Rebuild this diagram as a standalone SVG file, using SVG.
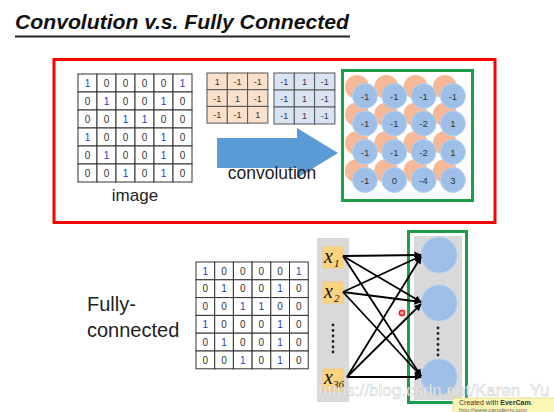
<svg xmlns="http://www.w3.org/2000/svg" width="554" height="412" viewBox="0 0 554 412">
<defs>
<style>
.t{font-family:"Liberation Sans",Arial,sans-serif;}
.cell{fill:#fff;stroke:#333;stroke-width:1;}
.d0{font-family:"Liberation Sans",Arial,sans-serif;font-size:10px;fill:#333;text-anchor:middle;}
.d1{font-family:"Liberation Sans",Arial,sans-serif;font-size:10px;fill:#2a35c8;text-anchor:middle;}
.fo{fill:#fbe0cc;stroke:#555;stroke-width:1;}
.fb{fill:#dae3f3;stroke:#555;stroke-width:1;}
.fd{font-family:"Liberation Sans",Arial,sans-serif;font-size:9px;fill:#333;text-anchor:middle;}
.oc{fill:#f7b897;}
.bc{fill:#9ec0e8;stroke:#b7d0ee;stroke-width:1;}
.cv{font-family:"Liberation Sans",Arial,sans-serif;font-size:9.5px;fill:#333;text-anchor:middle;}
.xb{fill:#fcd37f;stroke:#f2c86e;stroke-width:0.8;}
.xl{font-family:"Liberation Serif","Times New Roman",serif;font-style:italic;font-size:20px;fill:#111;}
.sub{font-family:"Liberation Serif","Times New Roman",serif;font-style:italic;font-size:11px;fill:#111;}
.ln{stroke:#000;stroke-width:1.8;fill:none;marker-end:url(#ah);}
.dot{fill:#222;}
</style>
<marker id="ah" viewBox="0 0 10 10" refX="9" refY="5" markerWidth="4" markerHeight="4" orient="auto" markerUnits="strokeWidth">
<path d="M0,0 L10,5 L0,10 z" fill="#000"/>
</marker>
<radialGradient id="glow"><stop offset="0" stop-color="#ff8080" stop-opacity="0.7"/><stop offset="1" stop-color="#ffc0c0" stop-opacity="0"/></radialGradient>
</defs>
<rect width="554" height="412" fill="#fff"/>

<g id="title">
<text class="t" x="15" y="29" font-size="21" font-weight="bold" font-style="italic" fill="#111" textLength="334" lengthAdjust="spacingAndGlyphs">Convolution v.s. Fully Connected</text>
<rect x="15" y="35.5" width="335" height="2" fill="#222"/>
</g>

<g id="conv-frame">
<rect x="54" y="59.5" width="441" height="163" fill="none" stroke="#f00" stroke-width="3"/>
</g>

<g id="image-matrix">
<g>
<rect class="cell" x="78" y="74" width="19" height="18"/><rect class="cell" x="97" y="74" width="19" height="18"/><rect class="cell" x="116" y="74" width="19" height="18"/><rect class="cell" x="135" y="74" width="19" height="18"/><rect class="cell" x="154" y="74" width="19" height="18"/><rect class="cell" x="173" y="74" width="19" height="18"/>
<rect class="cell" x="78" y="92" width="19" height="18"/><rect class="cell" x="97" y="92" width="19" height="18"/><rect class="cell" x="116" y="92" width="19" height="18"/><rect class="cell" x="135" y="92" width="19" height="18"/><rect class="cell" x="154" y="92" width="19" height="18"/><rect class="cell" x="173" y="92" width="19" height="18"/>
<rect class="cell" x="78" y="110" width="19" height="18"/><rect class="cell" x="97" y="110" width="19" height="18"/><rect class="cell" x="116" y="110" width="19" height="18"/><rect class="cell" x="135" y="110" width="19" height="18"/><rect class="cell" x="154" y="110" width="19" height="18"/><rect class="cell" x="173" y="110" width="19" height="18"/>
<rect class="cell" x="78" y="128" width="19" height="18"/><rect class="cell" x="97" y="128" width="19" height="18"/><rect class="cell" x="116" y="128" width="19" height="18"/><rect class="cell" x="135" y="128" width="19" height="18"/><rect class="cell" x="154" y="128" width="19" height="18"/><rect class="cell" x="173" y="128" width="19" height="18"/>
<rect class="cell" x="78" y="146" width="19" height="18"/><rect class="cell" x="97" y="146" width="19" height="18"/><rect class="cell" x="116" y="146" width="19" height="18"/><rect class="cell" x="135" y="146" width="19" height="18"/><rect class="cell" x="154" y="146" width="19" height="18"/><rect class="cell" x="173" y="146" width="19" height="18"/>
<rect class="cell" x="78" y="164" width="19" height="18"/><rect class="cell" x="97" y="164" width="19" height="18"/><rect class="cell" x="116" y="164" width="19" height="18"/><rect class="cell" x="135" y="164" width="19" height="18"/><rect class="cell" x="154" y="164" width="19" height="18"/><rect class="cell" x="173" y="164" width="19" height="18"/>
</g>
<text class="d1" x="87.5" y="87">1</text><text class="d0" x="106.5" y="87">0</text><text class="d0" x="125.5" y="87">0</text><text class="d0" x="144.5" y="87">0</text><text class="d0" x="163.5" y="87">0</text><text class="d1" x="182.5" y="87">1</text>
<text class="d0" x="87.5" y="105">0</text><text class="d1" x="106.5" y="105">1</text><text class="d0" x="125.5" y="105">0</text><text class="d0" x="144.5" y="105">0</text><text class="d1" x="163.5" y="105">1</text><text class="d0" x="182.5" y="105">0</text>
<text class="d0" x="87.5" y="123">0</text><text class="d0" x="106.5" y="123">0</text><text class="d1" x="125.5" y="123">1</text><text class="d1" x="144.5" y="123">1</text><text class="d0" x="163.5" y="123">0</text><text class="d0" x="182.5" y="123">0</text>
<text class="d1" x="87.5" y="141">1</text><text class="d0" x="106.5" y="141">0</text><text class="d0" x="125.5" y="141">0</text><text class="d0" x="144.5" y="141">0</text><text class="d1" x="163.5" y="141">1</text><text class="d0" x="182.5" y="141">0</text>
<text class="d0" x="87.5" y="159">0</text><text class="d1" x="106.5" y="159">1</text><text class="d0" x="125.5" y="159">0</text><text class="d0" x="144.5" y="159">0</text><text class="d1" x="163.5" y="159">1</text><text class="d0" x="182.5" y="159">0</text>
<text class="d0" x="87.5" y="177">0</text><text class="d0" x="106.5" y="177">0</text><text class="d1" x="125.5" y="177">1</text><text class="d0" x="144.5" y="177">0</text><text class="d1" x="163.5" y="177">1</text><text class="d0" x="182.5" y="177">0</text>
<text class="t" x="135" y="201" font-size="17" fill="#222" text-anchor="middle">image</text>
</g>

<g id="filter1">
<rect class="fo" x="207" y="73" width="20.3" height="16.7"/><rect class="fo" x="227.3" y="73" width="20.3" height="16.7"/><rect class="fo" x="247.6" y="73" width="20.3" height="16.7"/>
<rect class="fo" x="207" y="89.7" width="20.3" height="16.7"/><rect class="fo" x="227.3" y="89.7" width="20.3" height="16.7"/><rect class="fo" x="247.6" y="89.7" width="20.3" height="16.7"/>
<rect class="fo" x="207" y="106.4" width="20.3" height="16.7"/><rect class="fo" x="227.3" y="106.4" width="20.3" height="16.7"/><rect class="fo" x="247.6" y="106.4" width="20.3" height="16.7"/>
<text class="fd" x="217.2" y="85">1</text><text class="fd" x="237.5" y="85">-1</text><text class="fd" x="257.8" y="85">-1</text>
<text class="fd" x="217.2" y="101.7">-1</text><text class="fd" x="237.5" y="101.7">1</text><text class="fd" x="257.8" y="101.7">-1</text>
<text class="fd" x="217.2" y="118.4">-1</text><text class="fd" x="237.5" y="118.4">-1</text><text class="fd" x="257.8" y="118.4">1</text>
</g>

<g id="filter2">
<rect class="fb" x="274" y="73" width="20.3" height="17"/><rect class="fb" x="294.3" y="73" width="20.3" height="17"/><rect class="fb" x="314.6" y="73" width="20.3" height="17"/>
<rect class="fb" x="274" y="90" width="20.3" height="17"/><rect class="fb" x="294.3" y="90" width="20.3" height="17"/><rect class="fb" x="314.6" y="90" width="20.3" height="17"/>
<rect class="fb" x="274" y="107" width="20.3" height="17"/><rect class="fb" x="294.3" y="107" width="20.3" height="17"/><rect class="fb" x="314.6" y="107" width="20.3" height="17"/>
<text class="fd" x="284.2" y="85">-1</text><text class="fd" x="304.5" y="85">1</text><text class="fd" x="324.8" y="85">-1</text>
<text class="fd" x="284.2" y="102">-1</text><text class="fd" x="304.5" y="102">1</text><text class="fd" x="324.8" y="102">-1</text>
<text class="fd" x="284.2" y="119">-1</text><text class="fd" x="304.5" y="119">1</text><text class="fd" x="324.8" y="119">-1</text>
</g>

<g id="conv-arrow">
<polygon points="217,138 297,138 297,128 338,153 297,178 297,168 217,168" fill="#5b9bd5"/>
<text class="t" x="272" y="179" font-size="17.5" fill="#222" text-anchor="middle">convolution</text>
</g>

<g id="feature-map">
<rect x="342.5" y="70.5" width="130" height="130" fill="#fff" stroke="#1e9e48" stroke-width="3"/>
<g>
<circle class="oc" cx="357" cy="87" r="12"/><circle class="oc" cx="386.3" cy="87" r="12"/><circle class="oc" cx="415.6" cy="87" r="12"/><circle class="oc" cx="444.9" cy="87" r="12"/>
<circle class="oc" cx="357" cy="114.5" r="12"/><circle class="oc" cx="386.3" cy="114.5" r="12"/><circle class="oc" cx="415.6" cy="114.5" r="12"/><circle class="oc" cx="444.9" cy="114.5" r="12"/>
<circle class="oc" cx="357" cy="143" r="12"/><circle class="oc" cx="386.3" cy="143" r="12"/><circle class="oc" cx="415.6" cy="143" r="12"/><circle class="oc" cx="444.9" cy="143" r="12"/>
<circle class="oc" cx="357" cy="171" r="12"/><circle class="oc" cx="386.3" cy="171" r="12"/><circle class="oc" cx="415.6" cy="171" r="12"/><circle class="oc" cx="444.9" cy="171" r="12"/>
</g>
<g>
<circle class="bc" cx="365" cy="96" r="12.5"/><circle class="bc" cx="394.3" cy="96" r="12.5"/><circle class="bc" cx="423.6" cy="96" r="12.5"/><circle class="bc" cx="452.9" cy="96" r="12.5"/>
<circle class="bc" cx="365" cy="123.5" r="12.5"/><circle class="bc" cx="394.3" cy="123.5" r="12.5"/><circle class="bc" cx="423.6" cy="123.5" r="12.5"/><circle class="bc" cx="452.9" cy="123.5" r="12.5"/>
<circle class="bc" cx="365" cy="152" r="12.5"/><circle class="bc" cx="394.3" cy="152" r="12.5"/><circle class="bc" cx="423.6" cy="152" r="12.5"/><circle class="bc" cx="452.9" cy="152" r="12.5"/>
<circle class="bc" cx="365" cy="180" r="12.5"/><circle class="bc" cx="394.3" cy="180" r="12.5"/><circle class="bc" cx="423.6" cy="180" r="12.5"/><circle class="bc" cx="452.9" cy="180" r="12.5"/>
</g>
<text class="cv" x="365" y="99.5">-1</text><text class="cv" x="394.3" y="99.5">-1</text><text class="cv" x="423.6" y="99.5">-1</text><text class="cv" x="452.9" y="99.5">-1</text>
<text class="cv" x="365" y="127">-1</text><text class="cv" x="394.3" y="127">-1</text><text class="cv" x="423.6" y="127">-2</text><text class="cv" x="452.9" y="127">1</text>
<text class="cv" x="365" y="155.5">-1</text><text class="cv" x="394.3" y="155.5">-1</text><text class="cv" x="423.6" y="155.5">-2</text><text class="cv" x="452.9" y="155.5">1</text>
<text class="cv" x="365" y="183.5">-1</text><text class="cv" x="394.3" y="183.5">0</text><text class="cv" x="423.6" y="183.5">-4</text><text class="cv" x="452.9" y="183.5">3</text>
</g>

<g id="fc-label">
<text class="t" font-size="20" fill="#222"><tspan x="87" y="311">Fully-</tspan><tspan x="87" y="337">connected</tspan></text>
</g>

<g id="fc-matrix">
<g>
<rect class="cell" x="196" y="262" width="18.7" height="17.8"/><rect class="cell" x="214.7" y="262" width="18.7" height="17.8"/><rect class="cell" x="233.4" y="262" width="18.7" height="17.8"/><rect class="cell" x="252.1" y="262" width="18.7" height="17.8"/><rect class="cell" x="270.8" y="262" width="18.7" height="17.8"/><rect class="cell" x="289.5" y="262" width="18.7" height="17.8"/>
<rect class="cell" x="196" y="279.8" width="18.7" height="17.8"/><rect class="cell" x="214.7" y="279.8" width="18.7" height="17.8"/><rect class="cell" x="233.4" y="279.8" width="18.7" height="17.8"/><rect class="cell" x="252.1" y="279.8" width="18.7" height="17.8"/><rect class="cell" x="270.8" y="279.8" width="18.7" height="17.8"/><rect class="cell" x="289.5" y="279.8" width="18.7" height="17.8"/>
<rect class="cell" x="196" y="297.6" width="18.7" height="17.8"/><rect class="cell" x="214.7" y="297.6" width="18.7" height="17.8"/><rect class="cell" x="233.4" y="297.6" width="18.7" height="17.8"/><rect class="cell" x="252.1" y="297.6" width="18.7" height="17.8"/><rect class="cell" x="270.8" y="297.6" width="18.7" height="17.8"/><rect class="cell" x="289.5" y="297.6" width="18.7" height="17.8"/>
<rect class="cell" x="196" y="315.4" width="18.7" height="17.8"/><rect class="cell" x="214.7" y="315.4" width="18.7" height="17.8"/><rect class="cell" x="233.4" y="315.4" width="18.7" height="17.8"/><rect class="cell" x="252.1" y="315.4" width="18.7" height="17.8"/><rect class="cell" x="270.8" y="315.4" width="18.7" height="17.8"/><rect class="cell" x="289.5" y="315.4" width="18.7" height="17.8"/>
<rect class="cell" x="196" y="333.2" width="18.7" height="17.8"/><rect class="cell" x="214.7" y="333.2" width="18.7" height="17.8"/><rect class="cell" x="233.4" y="333.2" width="18.7" height="17.8"/><rect class="cell" x="252.1" y="333.2" width="18.7" height="17.8"/><rect class="cell" x="270.8" y="333.2" width="18.7" height="17.8"/><rect class="cell" x="289.5" y="333.2" width="18.7" height="17.8"/>
<rect class="cell" x="196" y="351" width="18.7" height="17.8"/><rect class="cell" x="214.7" y="351" width="18.7" height="17.8"/><rect class="cell" x="233.4" y="351" width="18.7" height="17.8"/><rect class="cell" x="252.1" y="351" width="18.7" height="17.8"/><rect class="cell" x="270.8" y="351" width="18.7" height="17.8"/><rect class="cell" x="289.5" y="351" width="18.7" height="17.8"/>
</g>
<text class="d1" x="205.3" y="274.5">1</text><text class="d0" x="224" y="274.5">0</text><text class="d0" x="242.7" y="274.5">0</text><text class="d0" x="261.4" y="274.5">0</text><text class="d0" x="280.1" y="274.5">0</text><text class="d1" x="298.8" y="274.5">1</text>
<text class="d0" x="205.3" y="292.3">0</text><text class="d1" x="224" y="292.3">1</text><text class="d0" x="242.7" y="292.3">0</text><text class="d0" x="261.4" y="292.3">0</text><text class="d1" x="280.1" y="292.3">1</text><text class="d0" x="298.8" y="292.3">0</text>
<text class="d0" x="205.3" y="310.1">0</text><text class="d0" x="224" y="310.1">0</text><text class="d1" x="242.7" y="310.1">1</text><text class="d1" x="261.4" y="310.1">1</text><text class="d0" x="280.1" y="310.1">0</text><text class="d0" x="298.8" y="310.1">0</text>
<text class="d1" x="205.3" y="327.9">1</text><text class="d0" x="224" y="327.9">0</text><text class="d0" x="242.7" y="327.9">0</text><text class="d0" x="261.4" y="327.9">0</text><text class="d1" x="280.1" y="327.9">1</text><text class="d0" x="298.8" y="327.9">0</text>
<text class="d0" x="205.3" y="345.7">0</text><text class="d1" x="224" y="345.7">1</text><text class="d0" x="242.7" y="345.7">0</text><text class="d0" x="261.4" y="345.7">0</text><text class="d1" x="280.1" y="345.7">1</text><text class="d0" x="298.8" y="345.7">0</text>
<text class="d0" x="205.3" y="363.5">0</text><text class="d0" x="224" y="363.5">0</text><text class="d1" x="242.7" y="363.5">1</text><text class="d0" x="261.4" y="363.5">0</text><text class="d1" x="280.1" y="363.5">1</text><text class="d0" x="298.8" y="363.5">0</text>
</g>

<g id="input-layer">
<rect x="317" y="238" width="32" height="164" fill="#d9d9d9"/>
<rect class="xb" x="323" y="247" width="20" height="21"/>
<text class="xl" x="324" y="263">x</text><text class="sub" x="334" y="267">1</text>
<rect class="xb" x="323" y="282" width="20" height="21"/>
<text class="xl" x="324" y="298">x</text><text class="sub" x="334" y="302">2</text>
<circle class="dot" cx="333" cy="325" r="1.4"/><circle class="dot" cx="333" cy="330.5" r="1.4"/><circle class="dot" cx="333" cy="336" r="1.4"/><circle class="dot" cx="333" cy="341.5" r="1.4"/><circle class="dot" cx="333" cy="347" r="1.4"/><circle class="dot" cx="333" cy="352" r="1.4"/>
<rect class="xb" x="323" y="369" width="20" height="22"/>
<text class="xl" x="324" y="384">x</text><text class="sub" x="333" y="388">36</text>
</g>

<g id="output-layer">
<rect x="408.5" y="231.5" width="58" height="171" fill="none" stroke="#1e9e48" stroke-width="3"/>
<rect x="414" y="236" width="48" height="164" fill="#d9d9d9"/>
<circle class="bc" cx="439" cy="255" r="18"/>
<circle class="bc" cx="439" cy="303" r="18"/>
<circle class="dot" cx="438" cy="328" r="1.4"/><circle class="dot" cx="438" cy="333.5" r="1.4"/><circle class="dot" cx="438" cy="339" r="1.4"/><circle class="dot" cx="438" cy="344.5" r="1.4"/><circle class="dot" cx="438" cy="350" r="1.4"/><circle class="dot" cx="438" cy="355" r="1.4"/>
<circle class="bc" cx="439" cy="377" r="18"/>
</g>

<g id="connectors">
<line class="ln" x1="343" y1="256" x2="421" y2="255"/>
<line class="ln" x1="343" y1="256" x2="421" y2="302"/>
<line class="ln" x1="343" y1="256" x2="421" y2="376"/>
<line class="ln" x1="343" y1="292" x2="421" y2="256"/>
<line class="ln" x1="343" y1="292" x2="421" y2="302"/>
<line class="ln" x1="343" y1="292" x2="421" y2="376"/>
<line class="ln" x1="347" y1="377" x2="421" y2="257"/>
<line class="ln" x1="347" y1="377" x2="421" y2="304"/>
<line class="ln" x1="347" y1="377" x2="421" y2="377"/>
</g>

<g id="cursor">
<circle cx="402" cy="313" r="7" fill="url(#glow)"/>
<circle cx="402" cy="313" r="2.5" fill="none" stroke="#e02020" stroke-width="1.5"/>
</g>

<g id="watermark">
<text class="t" x="318" y="396" font-size="17" fill="#fff" fill-opacity="0.85" stroke="#bbb" stroke-width="0.6" stroke-opacity="0.7">https://blog.csdn.net/Karen_Yu</text>
</g>

<g id="evercam">
<rect x="453" y="398" width="110" height="20" fill="#fcf7b6" stroke="#e2d880" stroke-width="0.8"/>
<text class="t" x="459" y="405" font-size="7" fill="#333">Created with <tspan font-weight="bold">EverCam</tspan>.</text>
<text class="t" x="459" y="411.5" font-size="6" fill="#666">http://www.camdemy.com</text>
</g>
</svg>
